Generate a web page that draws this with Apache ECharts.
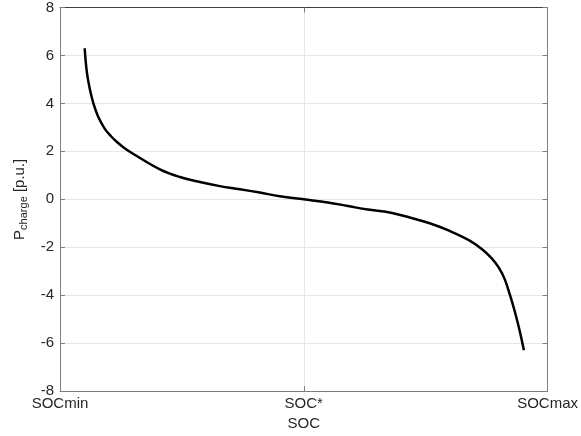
<!DOCTYPE html>
<html>
<head>
<meta charset="utf-8">
<script src="https://cdn.jsdelivr.net/npm/echarts@6/dist/echarts.min.js"></script>
<style>html,body{margin:0;padding:0;background:#fff}#c{width:581px;height:436px}</style>
</head>
<body>
<div id="c"></div>
<script>
// SOC position in % between SOCmin (0) and SOCmax (100)
var socPos = [5.06, 5.53, 6.15, 6.85, 7.79, 9.16, 10.51, 11.74, 13.32, 15.23, 20.49, 24.59, 28.69, 32.79, 36.89, 40.98, 45.08, 50,
              54.92, 59.02, 63.11, 67.62, 71.72, 75.82, 79.92, 84.02, 86.5, 88.5, 90.0, 91.2, 92.3, 93.3, 94.3, 95.14];
var pCharge = [6.30, 5.27, 4.57, 4.00, 3.46, 2.95, 2.62, 2.38, 2.12, 1.87, 1.25, 0.93, 0.72, 0.55, 0.42, 0.28, 0.13, 0,
               -0.13, -0.28, -0.43, -0.55, -0.76, -1.00, -1.32, -1.72, -2.07, -2.45, -2.85, -3.33, -4.00, -4.70, -5.50, -6.30];
var xTickValues = [0, 50, 100];
var xTickLabels = ['SOCmin', 'SOC*', 'SOCmax'];
var yTicks = [-8, -6, -4, -2, 0, 2, 4, 6, 8];

var data = socPos.map(function (x, i) { return [x, pCharge[i]]; });
var font = 'Liberation Sans, Arial, Helvetica, sans-serif';
var axisCol = '#7f7f7f';
var chart = echarts.init(document.getElementById('c'), null, {renderer: 'canvas'});
var xBase = {
  type: 'value', min: xTickValues[0], max: xTickValues[2], interval: 50,
  axisLine: {show: true, onZero: false, lineStyle: {color: axisCol, width: 1}},
  axisTick: {show: true, inside: true, length: 5, lineStyle: {color: axisCol}}
};
var yBase = {
  type: 'value', min: yTicks[0], max: yTicks[yTicks.length - 1], interval: 2,
  axisLine: {show: true, onZero: false, lineStyle: {color: axisCol, width: 1}},
  axisTick: {show: true, inside: true, length: 5, lineStyle: {color: axisCol}}
};
chart.setOption({
  animation: false,
  backgroundColor: '#fff',
  grid: {left: 60, right: 33, top: 7.5, bottom: 43.5},
  xAxis: [
    Object.assign({}, xBase, {
      position: 'bottom',
      name: 'SOC', nameLocation: 'middle', nameGap: 23,
      nameTextStyle: {fontFamily: font, fontSize: 15, color: '#262626'},
      axisLabel: {fontFamily: font, fontSize: 15, color: '#262626', margin: 5,
        formatter: function (v) { var i = xTickValues.indexOf(v); return i >= 0 ? xTickLabels[i] : ''; }},
      splitLine: {show: true, lineStyle: {color: '#e6e6e6', width: 1}}
    }),
    Object.assign({}, xBase, {position: 'top', axisLabel: {show: false}, splitLine: {show: false},
      axisLine: {show: true, onZero: false, lineStyle: {color: '#404040', width: 1}}})
  ],
  yAxis: [
    Object.assign({}, yBase, {
      position: 'left',
      name: '{a|P}{b|charge}{a| [p.u.]}', nameLocation: 'middle', nameGap: 31, nameRotate: 90,
      nameTextStyle: {fontFamily: font, color: '#262626',
        rich: {a: {fontFamily: font, fontSize: 15, color: '#262626'},
               b: {fontFamily: font, fontSize: 11, color: '#262626', padding: [8, 0, 0, 0]}}},
      axisLabel: {fontFamily: font, fontSize: 15, color: '#262626', margin: 6},
      splitLine: {show: true, lineStyle: {color: '#e6e6e6', width: 1}}
    }),
    Object.assign({}, yBase, {position: 'right', axisLabel: {show: false}, splitLine: {show: false}})
  ],
  series: [{
    type: 'line', data: data, showSymbol: false, smooth: 0.4, xAxisIndex: 0, yAxisIndex: 0,
    lineStyle: {color: '#000', width: 2.5}, z: 5
  }]
});
</script>
</body>
</html>
